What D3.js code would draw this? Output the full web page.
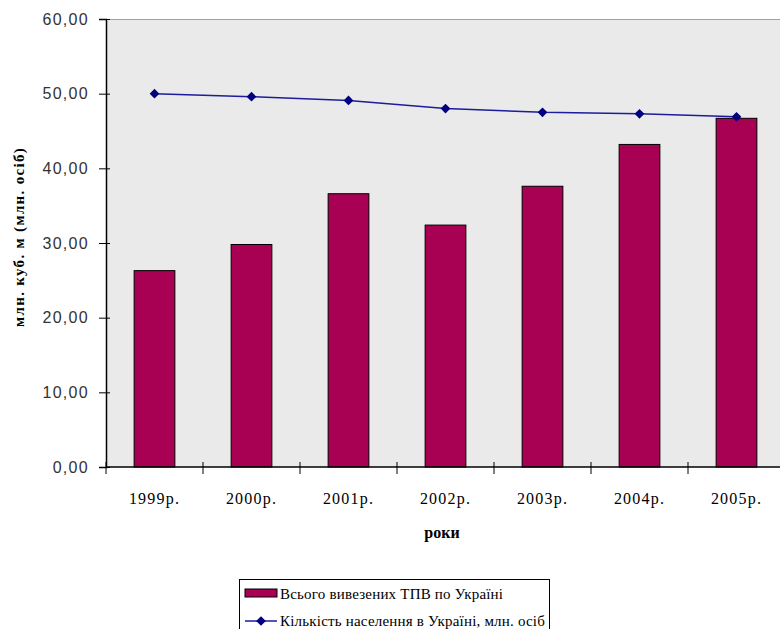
<!DOCTYPE html>
<html>
<head>
<meta charset="utf-8">
<script src="https://cdn.jsdelivr.net/npm/d3@7"></script>
<style>
  html, body { margin: 0; padding: 0; background: #fff; }
  svg { display: block; }
</style>
</head>
<body>
<svg id="chart" width="780" height="629"></svg>
<script>
const years = ["1999р.", "2000р.", "2001р.", "2002р.", "2003р.", "2004р.", "2005р."];
const waste = [26.3, 29.8, 36.6, 32.4, 37.6, 43.2, 46.7];
const population = [50.0, 49.6, 49.1, 48.0, 47.5, 47.3, 46.9];
const yTicks = [0, 10, 20, 30, 40, 50, 60];
const seriesNames = ["Всього вивезених ТПВ по Україні", "Кількість населення в Україні, млн. осіб"];

const svg = d3.select("#chart");
const plotLeft = 106, plotTop = 19, plotBottom = 467, plotRight = 785;

const x = d3.scaleBand().domain(years).range([plotLeft, plotRight])
  .paddingInner(0.58).paddingOuter(0.29);
const y = d3.scaleLinear().domain([0, 60]).range([plotBottom, plotTop]);

// plot area
svg.append("rect")
  .attr("x", plotLeft).attr("y", plotTop)
  .attr("width", plotRight - plotLeft).attr("height", plotBottom - plotTop)
  .attr("fill", "#eaeaea");
svg.append("line")
  .attr("x1", plotLeft).attr("x2", plotRight).attr("y1", plotTop + 0.5).attr("y2", plotTop + 0.5)
  .attr("stroke", "#a0a0a0");

// bars
svg.append("g").selectAll("rect")
  .data(years)
  .join("rect")
  .attr("x", (d) => x(d))
  .attr("y", (d, i) => y(waste[i]))
  .attr("width", x.bandwidth())
  .attr("height", (d, i) => y(0) - y(waste[i]))
  .attr("fill", "#a80052")
  .attr("stroke", "#000")
  .attr("stroke-width", 1);

// line
const cx = (d) => x(d) + x.bandwidth() / 2;
const line = d3.line()
  .x((d, i) => cx(years[i]))
  .y((d) => y(d));
svg.append("path")
  .datum(population)
  .attr("fill", "none")
  .attr("stroke", "#1c1c9c")
  .attr("stroke-width", 1.5)
  .attr("d", line);
const diamond = d3.symbol().type(d3.symbolDiamond2).size(60);
svg.append("g").selectAll("path")
  .data(population)
  .join("path")
  .attr("transform", (d, i) => `translate(${cx(years[i])},${y(d)})`)
  .attr("d", diamond)
  .attr("fill", "#000080");

// y axis
const yAxis = svg.append("g")
  .attr("transform", `translate(${plotLeft},0)`)
  .call(d3.axisLeft(y).tickValues(yTicks).tickSize(7).tickPadding(10)
    .tickFormat((d) => d3.format(".2f")(d).replace(".", ",")));
yAxis.select(".domain").attr("stroke", "#000").attr("stroke-width", 1.5);
yAxis.selectAll(".tick line").attr("x1", 4).attr("stroke", "#000");
yAxis.selectAll("text")
  .attr("font-family", "Liberation Sans, Arial, sans-serif")
  .attr("font-size", "16px")
  .attr("letter-spacing", "1.3px")
  .attr("fill", "#333");

// x axis
const step = x.step();
const xAxis = svg.append("g")
  .attr("transform", `translate(0,${plotBottom})`)
  .call(d3.axisBottom(x).tickSize(0).tickPadding(26));
xAxis.select(".domain").remove();
xAxis.append("line")
  .attr("x1", plotLeft).attr("x2", plotRight).attr("stroke", "#000").attr("stroke-width", 1.5);
xAxis.selectAll(".bound")
  .data(d3.range(years.length + 1))
  .join("line")
  .attr("x1", (i) => plotLeft + i * step).attr("x2", (i) => plotLeft + i * step)
  .attr("y1", -5).attr("y2", 7)
  .attr("stroke", "#000");
xAxis.selectAll("text")
  .attr("font-family", "'Liberation Serif', 'Times New Roman', serif")
  .attr("font-size", "16px")
  .attr("letter-spacing", "1.2px")
  .attr("fill", "#000");

// axis titles
svg.append("text")
  .attr("x", 442).attr("y", 538)
  .attr("text-anchor", "middle")
  .attr("font-family", "'Liberation Serif', serif")
  .attr("font-weight", "bold")
  .attr("font-size", "16px")
  .text("роки");
svg.append("text")
  .attr("transform", "translate(24,237) rotate(-90)")
  .attr("text-anchor", "middle")
  .attr("font-family", "'Liberation Serif', serif")
  .attr("font-weight", "bold")
  .attr("font-size", "15px")
  .attr("letter-spacing", "1.3px")
  .text("млн. куб. м (млн. осіб)");

// legend
const lg = svg.append("g");
lg.append("rect")
  .attr("x", 239.5).attr("y", 579.5).attr("width", 310).attr("height", 60)
  .attr("fill", "#fff").attr("stroke", "#000");
lg.append("rect")
  .attr("x", 245).attr("y", 589).attr("width", 32).attr("height", 8)
  .attr("fill", "#a80052").attr("stroke", "#000");
lg.append("line")
  .attr("x1", 245).attr("x2", 277).attr("y1", 621).attr("y2", 621)
  .attr("stroke", "#1c1c9c").attr("stroke-width", 1.5);
lg.append("path")
  .attr("transform", "translate(261,621)")
  .attr("d", diamond)
  .attr("fill", "#000080");
lg.selectAll("text")
  .data(seriesNames)
  .join("text")
  .attr("x", 280)
  .attr("y", (d, i) => 599 + i * 27)
  .attr("font-family", "'Liberation Serif', serif")
  .attr("font-size", "15px")
  .attr("letter-spacing", "0.2px")
  .attr("fill", "#000")
  .text((d) => d);
</script>
</body>
</html>
